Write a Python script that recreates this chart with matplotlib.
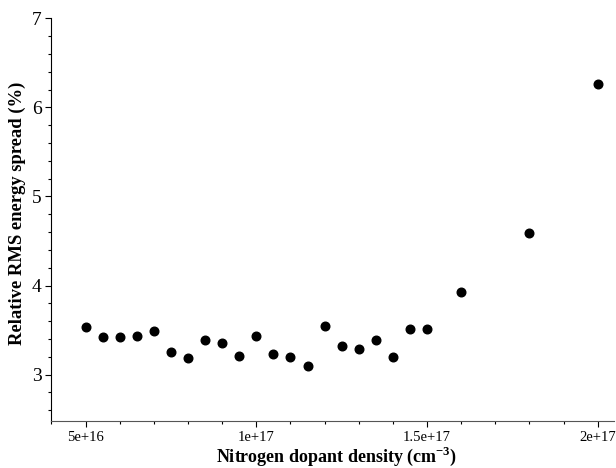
import matplotlib
matplotlib.use("Agg")
import matplotlib.pyplot as plt
from matplotlib.ticker import MultipleLocator, FixedLocator

density = [5.0e16, 5.5e16, 6.0e16, 6.5e16, 7.0e16, 7.5e16, 8.0e16, 8.5e16, 9.0e16,
           9.5e16, 1.0e17, 1.05e17, 1.1e17, 1.15e17, 1.2e17, 1.25e17, 1.3e17,
           1.35e17, 1.4e17, 1.45e17, 1.5e17, 1.6e17, 1.8e17, 2.0e17]
spread = [3.54, 3.42, 3.42, 3.43, 3.49, 3.26, 3.19, 3.39, 3.35, 3.21, 3.43,
          3.23, 3.20, 3.10, 3.55, 3.32, 3.29, 3.39, 3.20, 3.51, 3.51, 3.93,
          4.59, 6.26]
xtick_vals = [5e16, 1e17, 1.5e17, 2e17]
xtick_labels = ["5e+16", "1e+17", "1.5e+17", "2e+17"]
ytick_vals = [3, 4, 5, 6, 7]

plt.rcParams['font.family'] = ['Liberation Serif', 'DejaVu Serif']
plt.rcParams['mathtext.fontset'] = 'custom'
plt.rcParams['mathtext.rm'] = 'Liberation Serif'
plt.rcParams['mathtext.bf'] = 'Liberation Serif:bold'

fig = plt.figure(figsize=(6.16, 4.68), dpi=100)
ax = fig.add_axes([0.0836, 0.1004, 0.9132, 0.8606])

ax.plot(density, spread, 'o', color='black', markersize=6.2, linestyle='none')

ax.set_xlim(4e16, 2.048e17)
ax.set_ylim(2.48, 7)

ax.spines['top'].set_visible(False)
ax.spines['right'].set_visible(False)
for s in ('left', 'bottom'):
    ax.spines[s].set_linewidth(0.8)
ax.spines['bottom'].set_color('#555555')

ax.xaxis.set_major_locator(FixedLocator(xtick_vals))
ax.set_xticklabels(xtick_labels)
ax.xaxis.set_minor_locator(MultipleLocator(1e16))
ax.yaxis.set_major_locator(FixedLocator(ytick_vals))
ax.yaxis.set_minor_locator(MultipleLocator(0.2))

ax.tick_params(axis='x', which='major', direction='out', length=4.5, width=0.8, labelsize=10.5, pad=3)
ax.tick_params(axis='x', which='minor', direction='out', length=2.5, width=0.8)
ax.tick_params(axis='y', which='major', direction='out', length=4, width=0.8, labelsize=14, pad=3)
ax.tick_params(axis='y', which='minor', direction='out', length=2.5, width=0.8)

ax.set_xlabel(r'Nitrogen dopant density (cm$^{\mathbf{-3}}$)', fontsize=13, fontweight='bold')
ax.xaxis.set_label_coords(0.507, -0.101)
ax.xaxis.label.set_va('baseline')
ax.set_ylabel('Relative RMS energy spread (%)', fontsize=13.4, fontweight='bold')
ax.yaxis.set_label_coords(-0.0613, 0.516)
ax.yaxis.label.set_va('center')

fig.savefig('out.png', dpi=100)
